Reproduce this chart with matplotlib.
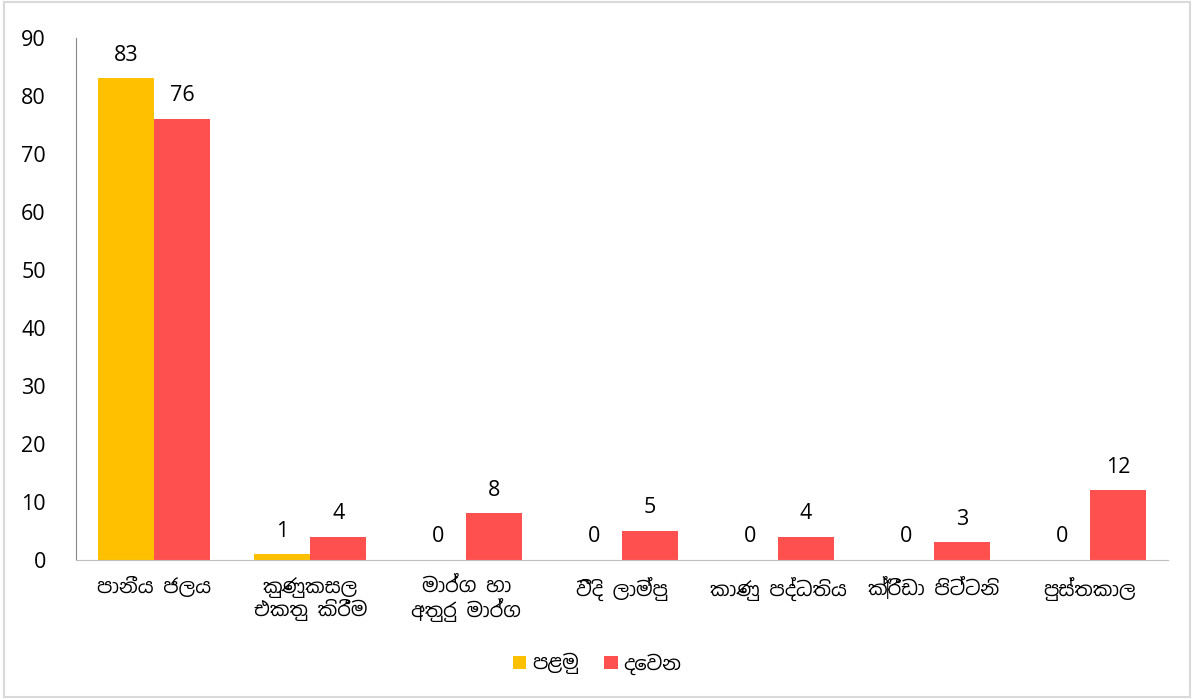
import matplotlib
matplotlib.use("Agg")
import matplotlib.pyplot as plt
import matplotlib.font_manager as fm
import numpy as np

categories = ["පානීය ජලය", "කුණුකසල\nඑකතු කිරීම", "මාර්ග හා\nඅතුරු මාර්ග",
              "වීදි ලාම්පු", "කාණු පද්ධතිය", "ක්‍රීඩා පිට්ටනි", "පුස්තකාල"]
first = [83, 1, 0, 0, 0, 0, 0]
second = [76, 4, 8, 5, 4, 3, 12]
series_names = ["පළමු", "දෙවන"]

# look for any installed font that can draw Sinhala
fams = []
for f in fm.fontManager.ttflist:
    if "sinhala" in f.name.lower() or "sinhala" in f.fname.lower():
        fams.append(f.name)
plt.rcParams['font.family'] = sorted(set(fams)) + ['Open Sans', 'DejaVu Sans']

fig = plt.figure(figsize=(11.94, 6.99), dpi=100)
ax = fig.add_axes([0.064, 0.199, 0.914, 0.747])

x = np.arange(len(categories))
w = 0.36
b1 = ax.bar(x - w/2, first, w, color='#FFC000', label=series_names[0])
b2 = ax.bar(x + w/2, second, w, color='#FF5050', label=series_names[1])

for bars in (b1, b2):
    for r in bars:
        ax.annotate(str(int(r.get_height())), (r.get_x() + r.get_width()/2, r.get_height()),
                    xytext=(0, 9), textcoords='offset points', ha='center', va='bottom',
                    fontsize=15.5, family=['Open Sans', 'DejaVu Sans'])

ax.set_xlim(-0.5, len(categories) - 0.5)
ax.set_ylim(0, 90)
ax.set_yticks(range(0, 91, 10))
ax.set_xticks(x)
ax.set_xticklabels(categories, fontsize=14, linespacing=1.1)
ax.tick_params(axis='y', labelsize=15.5, length=0, pad=22)
ax.tick_params(axis='x', length=0, pad=12)
for lab in ax.get_yticklabels():
    lab.set_family(['Open Sans', 'DejaVu Sans'])
for s in ['top', 'right']:
    ax.spines[s].set_visible(False)
ax.spines['left'].set_color('#888888')
ax.spines['bottom'].set_color('#BFBFBF')

fig.legend(loc='lower center', bbox_to_anchor=(0.5, 0.01), ncol=2, frameon=False,
           fontsize=14, handlelength=0.7, handleheight=0.7, columnspacing=1.3, handletextpad=0.3)

fig.patches.append(plt.Rectangle((0.003, 0.003), 0.994, 0.994, transform=fig.transFigure,
                                 fill=False, edgecolor='#D9D9D9', linewidth=1.5))
fig.savefig("out.png", dpi=100)
